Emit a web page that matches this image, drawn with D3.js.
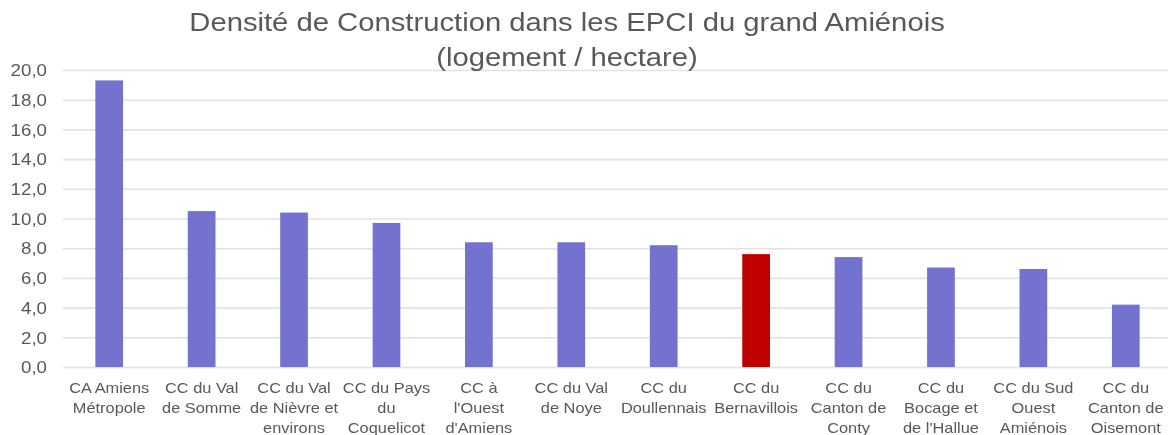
<!DOCTYPE html>
<html>
<head>
<meta charset="utf-8">
<script src="https://cdn.jsdelivr.net/npm/d3@7"></script>
<style>
  html, body { margin: 0; padding: 0; background: #fff; }
  svg { display: block; }
  text { font-family: "Liberation Sans", Arial, sans-serif; fill: #595959; }
</style>
</head>
<body>
<svg id="chart" width="1168" height="435"></svg>
<script>
// EPCI names (line breaks mark how each axis label wraps)
const categories = [
  "CA Amiens\nMétropole",
  "CC du Val\nde Somme",
  "CC du Val\nde Nièvre et\nenvirons",
  "CC du Pays\ndu\nCoquelicot",
  "CC à\nl'Ouest\nd'Amiens",
  "CC du Val\nde Noye",
  "CC du\nDoullennais",
  "CC du\nBernavillois",
  "CC du\nCanton de\nConty",
  "CC du\nBocage et\nde l'Hallue",
  "CC du Sud\nOuest\nAmiénois",
  "CC du\nCanton de\nOisemont"
];
// Construction density, dwellings per hectare
const densite = [19.3, 10.5, 10.4, 9.7, 8.4, 8.4, 8.2, 7.6, 7.4, 6.7, 6.6, 4.2];
const highlighted = ["CC du\nBernavillois"];
const yTicks = [0, 2, 4, 6, 8, 10, 12, 14, 16, 18, 20];
const titleLines = ["Densité de Construction dans les EPCI du grand Amiénois", "(logement / hectare)"];

const svg = d3.select("#chart");
const W = 1168;
const plot = { left: 63, right: 1172, top: 70, bottom: 367 };
const stretch = 1.17; // wide letterforms

// soft rendering
svg.append("defs").append("filter").attr("id", "soft")
  .append("feGaussianBlur").attr("stdDeviation", 0.55);
const root = svg.append("g").attr("filter", "url(#soft)");
root.append("rect").attr("width", W).attr("height", 435).attr("fill", "#fff");

const x = d3.scaleBand().domain(categories).range([plot.left, plot.right]).paddingInner(0.7).paddingOuter(0.35);
const y = d3.scaleLinear().domain([0, 20]).range([plot.bottom, plot.top]);
const fmt = v => d3.format(".1f")(v).replace(".", ",");

// gridlines and y labels
const yAxis = d3.axisLeft(y).tickValues(yTicks).tickFormat(fmt).tickSize(-(W - plot.left));
const gy = root.append("g").attr("transform", `translate(${plot.left},0)`).call(yAxis);
gy.select(".domain").remove();
gy.selectAll(".tick line").attr("stroke", "#e2e2e2").attr("stroke-width", 1.6);
gy.selectAll(".tick text")
  .attr("x", 0).attr("dy", "0.36em")
  .attr("transform", `translate(-16,0) scale(${stretch},1)`)
  .attr("font-size", 16).attr("fill", "#595959")
  .attr("font-family", "Liberation Sans, Arial, sans-serif");

// bars
root.append("g").selectAll("rect").data(categories).join("rect")
  .attr("x", d => x(d))
  .attr("width", x.bandwidth())
  .attr("y", (d, i) => y(densite[i]))
  .attr("height", (d, i) => y(0) - y(densite[i]))
  .attr("fill", d => highlighted.includes(d) ? "#c00000" : "#7373cf");

// category labels
const xl = root.append("g").attr("font-size", 14).attr("text-anchor", "middle");
categories.forEach(c => {
  const cx = x(c) + x.bandwidth() / 2;
  const t = xl.append("text").attr("transform", `translate(${cx},393) scale(${stretch},1)`);
  c.split("\n").forEach((line, k) => {
    t.append("tspan").attr("x", 0).attr("y", k * 20).text(line);
  });
});

// title
const tt = root.append("text").attr("text-anchor", "middle").attr("font-size", 25)
  .attr("transform", `translate(567,31) scale(${stretch},1)`);
titleLines.forEach((line, k) => {
  tt.append("tspan").attr("x", 0).attr("y", k * 35).text(line);
});
</script>
</body>
</html>
